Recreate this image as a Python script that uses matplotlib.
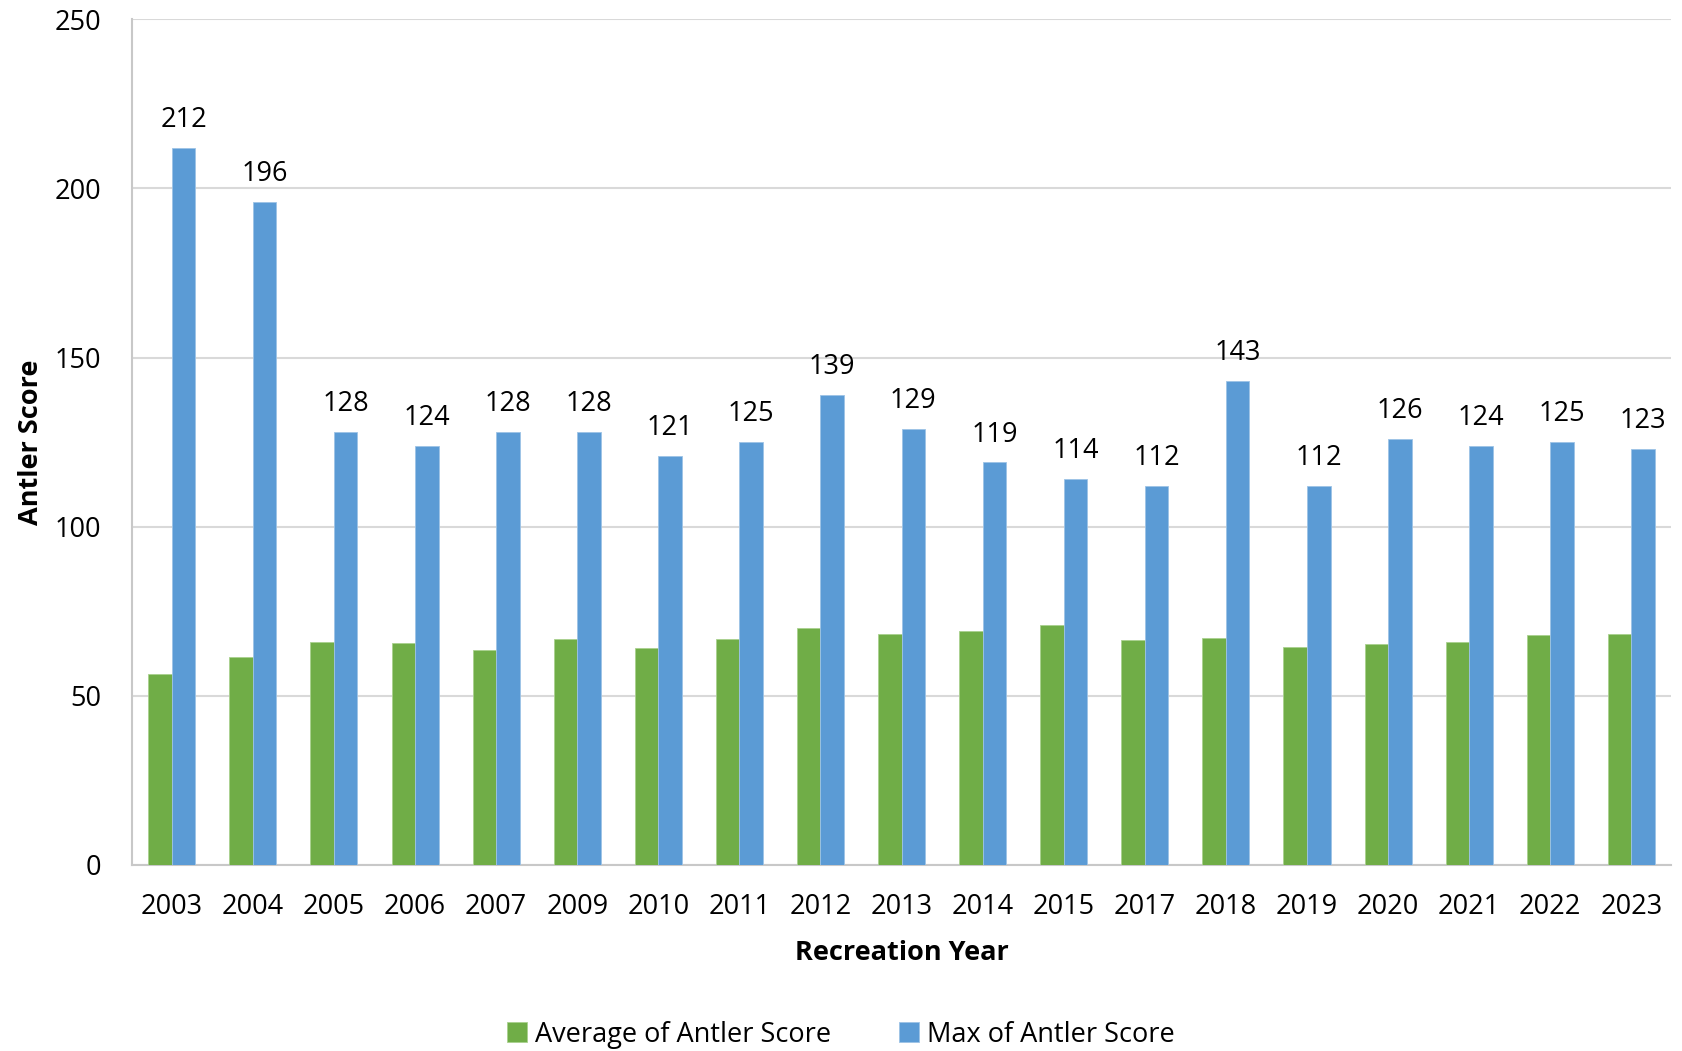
import matplotlib
matplotlib.use("Agg")
import matplotlib.pyplot as plt
import numpy as np

years = ["2003", "2004", "2005", "2006", "2007", "2009", "2010", "2011", "2012", "2013",
         "2014", "2015", "2017", "2018", "2019", "2020", "2021", "2022", "2023"]
avg_score = [56.5, 61.4, 66.0, 65.6, 63.7, 66.9, 64.1, 66.8, 70.0, 68.3,
             69.2, 70.9, 66.5, 67.2, 64.4, 65.2, 66.0, 68.1, 68.2]
max_score = [212, 196, 128, 124, 128, 128, 121, 125, 139, 129,
             119, 114, 112, 143, 112, 126, 124, 125, 123]
y_ticks = [0, 50, 100, 150, 200, 250]

plt.rcParams['font.family'] = ['Open Sans', 'DejaVu Sans']

fig = plt.figure(figsize=(16.82, 10.51), dpi=100)
ax = fig.add_axes([0.0785, 0.177, 0.915, 0.8046])

x = np.arange(len(years))
w = 0.29
green = "#70AD47"
blue = "#5B9BD5"
fs = 19.5
ax.bar(x - w / 2, avg_score, w, color=green, label="Average of Antler Score", zorder=3,
       edgecolor="#a9d18e", linewidth=0.6)
ax.bar(x + w / 2, max_score, w, color=blue, label="Max of Antler Score", zorder=3,
       edgecolor="#9dc3e6", linewidth=0.6)

for xi, v in zip(x, max_score):
    ax.annotate(f"{v}", (xi + w / 2, v), xytext=(0, 10), textcoords="offset points",
                ha="center", va="bottom", fontsize=fs, color="black")

ax.set_xlim(-0.49, len(years) - 0.51)
ax.set_ylim(0, 250)
ax.set_yticks(y_ticks)
ax.set_xticks(x)
ax.set_xticklabels(years)
ax.tick_params(axis="both", length=0, labelsize=fs, colors="black")
ax.tick_params(axis="x", pad=20)
ax.tick_params(axis="y", pad=22)
ax.yaxis.grid(True, color="#d9d9d9", linewidth=1.5, zorder=0)
ax.set_axisbelow(True)
for s in ["top", "right"]:
    ax.spines[s].set_visible(False)
for s in ["left", "bottom"]:
    ax.spines[s].set_color("#c8c8c8")
    ax.spines[s].set_linewidth(1.5)

ax.set_xlabel("Recreation Year", fontsize=fs, fontweight="bold", labelpad=14)
ax.set_ylabel("Antler Score", fontsize=fs, fontweight="bold", labelpad=8)

fig.legend(loc="lower center", bbox_to_anchor=(0.5, -0.021), ncol=2, frameon=False,
           fontsize=fs, handlelength=0.75, handleheight=0.75, columnspacing=2.5,
           handletextpad=0.3)

fig.savefig("out.png", dpi=100)
